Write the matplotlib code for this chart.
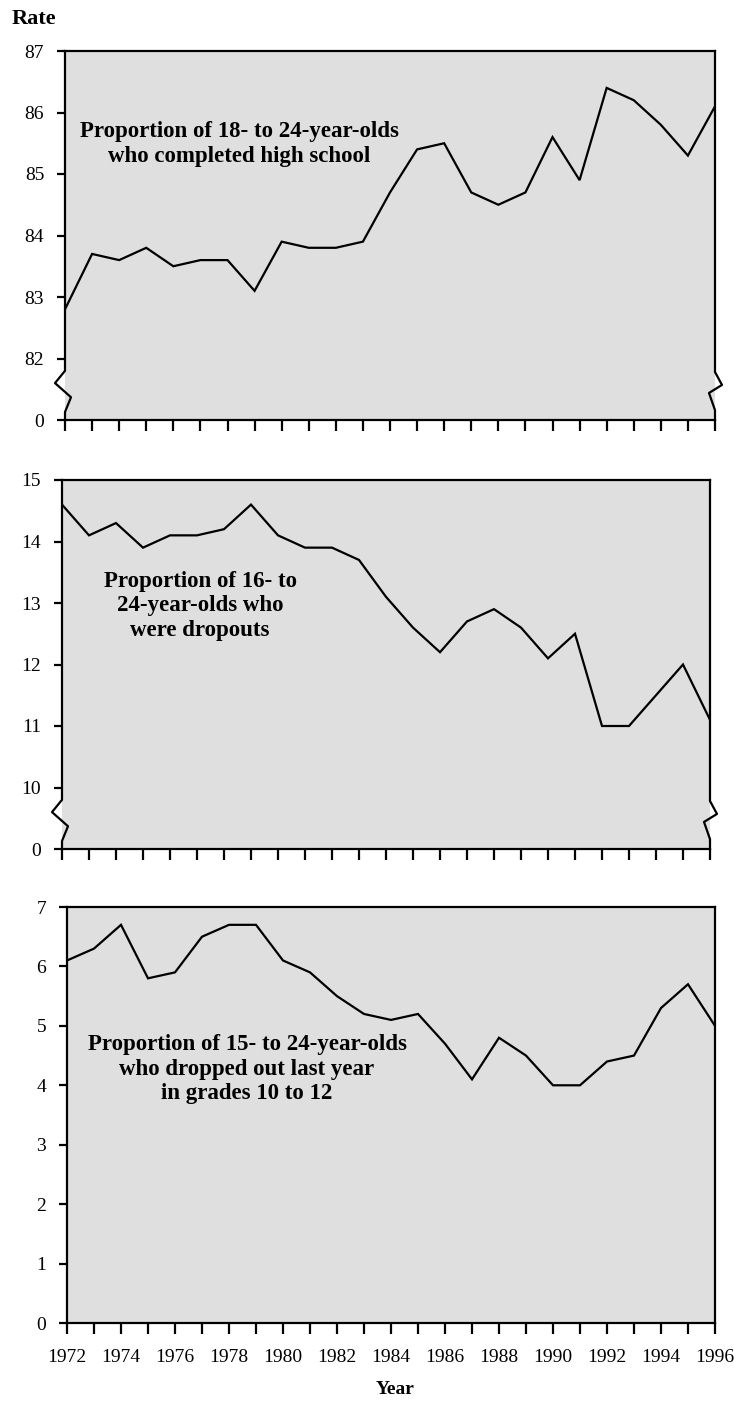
import matplotlib
matplotlib.use("Agg")
import matplotlib.pyplot as plt
import matplotlib.transforms as mtransforms

years = list(range(1972, 1997))
completed = [82.8, 83.7, 83.6, 83.8, 83.5, 83.6, 83.6, 83.1, 83.9, 83.8, 83.8, 83.9, 84.7,
             85.4, 85.5, 84.7, 84.5, 84.7, 85.6, 84.9, 86.4, 86.2, 85.8, 85.3, 86.1]
status_dropouts = [14.6, 14.1, 14.3, 13.9, 14.1, 14.1, 14.2, 14.6, 14.1, 13.9, 13.9, 13.7, 13.1,
                   12.6, 12.2, 12.7, 12.9, 12.6, 12.1, 12.5, 11.0, 11.0, 11.5, 12.0, 11.1]
event_dropouts = [6.1, 6.3, 6.7, 5.8, 5.9, 6.5, 6.7, 6.7, 6.1, 5.9, 5.5, 5.2, 5.1,
                  5.2, 4.7, 4.1, 4.8, 4.5, 4.0, 4.0, 4.4, 4.5, 5.3, 5.7, 5.0]

ticks1 = [0, 82, 83, 84, 85, 86, 87]
ticks2 = [0, 10, 11, 12, 13, 14, 15]
ticks3 = [0, 1, 2, 3, 4, 5, 6, 7]

label1 = "Proportion of 18- to 24-year-olds\nwho completed high school"
label2 = "Proportion of 16- to\n24-year-olds who\nwere dropouts"
label3 = "Proportion of 15- to 24-year-olds\nwho dropped out last year\nin grades 10 to 12"

plt.rcParams['font.family'] = ['Liberation Serif', 'DejaVu Serif']
FACE = '#dfdfdf'
LW = 1.6
TICKFS = 14
ANNFS = 16.5

fig = plt.figure(figsize=(7.34, 14.01), dpi=100)
W, H = 734, 1401


def add_axes(l, r, t, b):
    return fig.add_axes([l / W, 1 - b / H, (r - l) / W, (b - t) / H])


def style(ax):
    ax.set_facecolor(FACE)
    for s in ax.spines.values():
        s.set_linewidth(LW)
    ax.set_xlim(1972, 1996)
    ax.set_xticks(years)
    ax.tick_params(axis='x', direction='out', length=8, width=1.6, pad=11, labelsize=TICKFS)
    ax.tick_params(axis='y', direction='out', length=6, width=1.6, pad=9, labelsize=TICKFS)


def broken_panel(ax, values, ticks, base, pxw):
    style(ax)
    pos = [v - base for v in values]
    ax.plot(years, pos, color='black', lw=LW, solid_joinstyle='miter')
    ax.set_ylim(0, len(ticks) - 1)
    ax.set_yticks(range(len(ticks)))
    ax.set_yticklabels([str(t) for t in ticks])
    ax.set_xticklabels([])
    ax.spines['left'].set_visible(False)
    ax.spines['right'].set_visible(False)
    tr = mtransforms.blended_transform_factory(ax.transAxes, ax.transData)
    ymax = len(ticks) - 1
    d = 1.0 / pxw
    lx = [0, 0, -10 * d, 6 * d, 0, 0]
    ly = [ymax, 0.8, 0.6, 0.37, 0.13, 0]
    ax.plot(lx, ly, transform=tr, color='black', lw=LW, clip_on=False)
    rx = [1, 1, 1 + 7 * d, 1 - 6 * d, 1, 1]
    ry = [ymax, 0.78, 0.57, 0.44, 0.16, 0]
    ax.plot(rx, ry, transform=tr, color='black', lw=LW, clip_on=False)


ax1 = add_axes(65, 715, 51, 420)
broken_panel(ax1, completed, ticks1, 81, 650)
ax1.text((239 - 65) / 650, (420 - 144) / 369, label1, transform=ax1.transAxes,
         ha='center', va='center', fontsize=ANNFS, fontweight='bold', linespacing=1.2)

ax2 = add_axes(62, 710, 480, 849)
broken_panel(ax2, status_dropouts, ticks2, 9, 648)
ax2.text((200 - 62) / 648, (849 - 606) / 369, label2, transform=ax2.transAxes,
         ha='center', va='center', fontsize=ANNFS, fontweight='bold', linespacing=1.2)

ax3 = add_axes(67, 715, 907, 1323)
style(ax3)
ax3.plot(years, event_dropouts, color='black', lw=LW, solid_joinstyle='miter')
ax3.set_ylim(0, 7)
ax3.set_yticks(ticks3)
ax3.set_xticklabels([str(y) if (y - 1972) % 2 == 0 else '' for y in years])
ax3.text((247 - 67) / 648, (1323 - 1069) / 416, label3, transform=ax3.transAxes,
         ha='center', va='center', fontsize=ANNFS, fontweight='bold', linespacing=1.2)

fig.text(12 / W, 1 - 19 / H, "Rate", ha='left', va='center', fontsize=16, fontweight='bold')
fig.text(395 / W, 1 - 1390 / H, "Year", ha='center', va='center', fontsize=14, fontweight='bold')

fig.savefig("out.png", dpi=100)
